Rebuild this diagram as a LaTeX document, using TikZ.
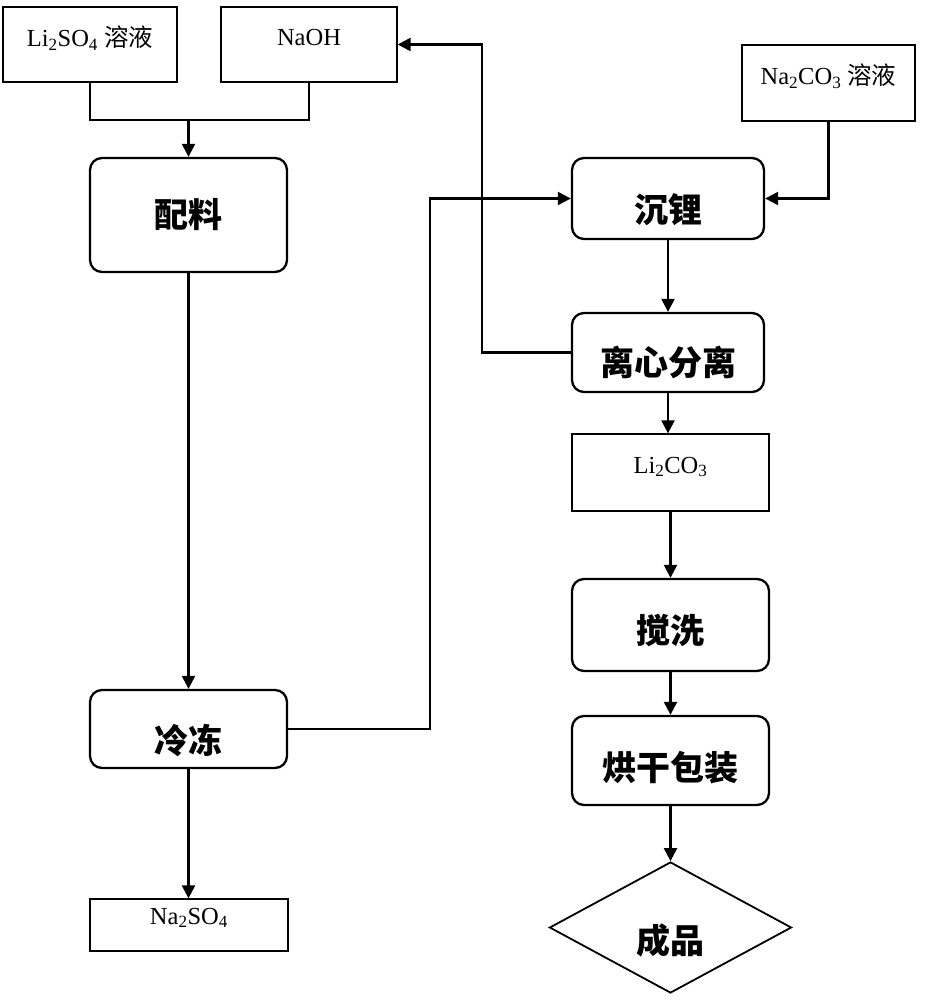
\documentclass[tikz,border=0pt]{standalone}
\usepackage{fontspec}
\setmainfont{Liberation Serif}
\newfontfamily\cjk{Noto Sans CJK SC}
\usetikzlibrary{arrows.meta,shapes.geometric,calc}
\begin{document}
\begin{tikzpicture}[x=1pt,y=-1pt,
  thinbox/.style={draw,line width=1.3pt,inner sep=0pt},
  procbox/.style={draw,line width=2.3pt,rounded corners=12pt,inner sep=0pt,minimum width=195pt},
  lbl/.style={font=\fontsize{24.5}{24.5}\selectfont,inner sep=0pt},
  plbl/.style={font=\cjk\bfseries\fontsize{34}{34}\selectfont,inner sep=0pt},
  flow/.style={line width=2.3pt,-{Triangle[length=13pt,width=13pt]}},
  link/.style={line width=2.3pt}
]
\useasboundingbox (0,0) rectangle (930,1000);

% input boxes
\node[thinbox,minimum width=174pt,minimum height=75pt,
  label={[lbl,yshift=6.5pt]center:Li\textsubscript{2}SO\textsubscript{4} {\cjk 溶液}}] (A) at (90,44.5) {};
\node[thinbox,minimum width=176pt,minimum height=75pt,
  label={[lbl,yshift=6.5pt]center:NaOH}] (B) at (309,44.5) {};
\node[thinbox,minimum width=173pt,minimum height=76pt,
  label={[lbl,yshift=7pt]center:Na\textsubscript{2}CO\textsubscript{3} {\cjk 溶液}}] (C) at (828.5,83) {};

% left column
\node[procbox,minimum width=197pt,minimum height=114pt,
  label={[plbl,yshift=0pt]center:配料}] (D) at (188.5,215) {};
\node[procbox,minimum width=197pt,minimum height=78pt,
  label={[plbl,yshift=-12pt]center:冷冻}] (E) at (188.5,729) {};
\node[thinbox,minimum width=198pt,minimum height=52pt,
  label={[lbl,yshift=7pt]center:Na\textsubscript{2}SO\textsubscript{4}}] (F) at (189,925) {};

% right column
\node[procbox,minimum width=192pt,minimum height=81pt,
  label={[plbl,yshift=-11.5pt]center:沉锂}] (G) at (668,198.5) {};
\node[procbox,minimum width=192pt,minimum height=79pt,
  label={[plbl,yshift=-9.5pt]center:离心分离}] (H) at (668,352.5) {};
\node[thinbox,minimum width=197pt,minimum height=77pt,
  label={[lbl,yshift=5.5pt]center:Li\textsubscript{2}CO\textsubscript{3}}] (I) at (670.5,472.5) {};
\node[procbox,minimum width=197pt,minimum height=92pt,
  label={[plbl,yshift=-5pt]center:搅洗}] (J) at (670.5,625) {};
\node[procbox,minimum width=197pt,minimum height=89pt,
  label={[plbl,yshift=-7.5pt]center:烘干包装}] (K) at (670.5,760.5) {};
\node[draw,diamond,line width=1.8pt,inner sep=0pt,minimum width=242pt,minimum height=131pt,
  label={[plbl,yshift=-13pt]center:成品}] (L) at (670.5,927.5) {};

% connectors
\coordinate (j) at (188.5,120);
\draw[link] (A.south) |- (j);
\draw[link] (B.south) |- (j);
\draw[flow] (j) -- (D.north);
\draw[flow] (D.south) -- (E.north);
\draw[flow] (E.south) -- (E.south |- F.north);
\draw[flow] (E.east) -- ++(142,0) |- (G.west);
\draw[flow] (C.south) |- (G.east);
\draw[flow] (G.south) -- (H.north);
\draw[flow] (H.west) -- ++(-89,0) |- (B.east);
\draw[flow] (H.south) -- (H.south |- I.north);
\draw[flow] (I.south) -- (J.north);
\draw[flow] (J.south) -- (K.north);
\draw[flow] (K.south) -- (L.north);
\end{tikzpicture}
\end{document}
